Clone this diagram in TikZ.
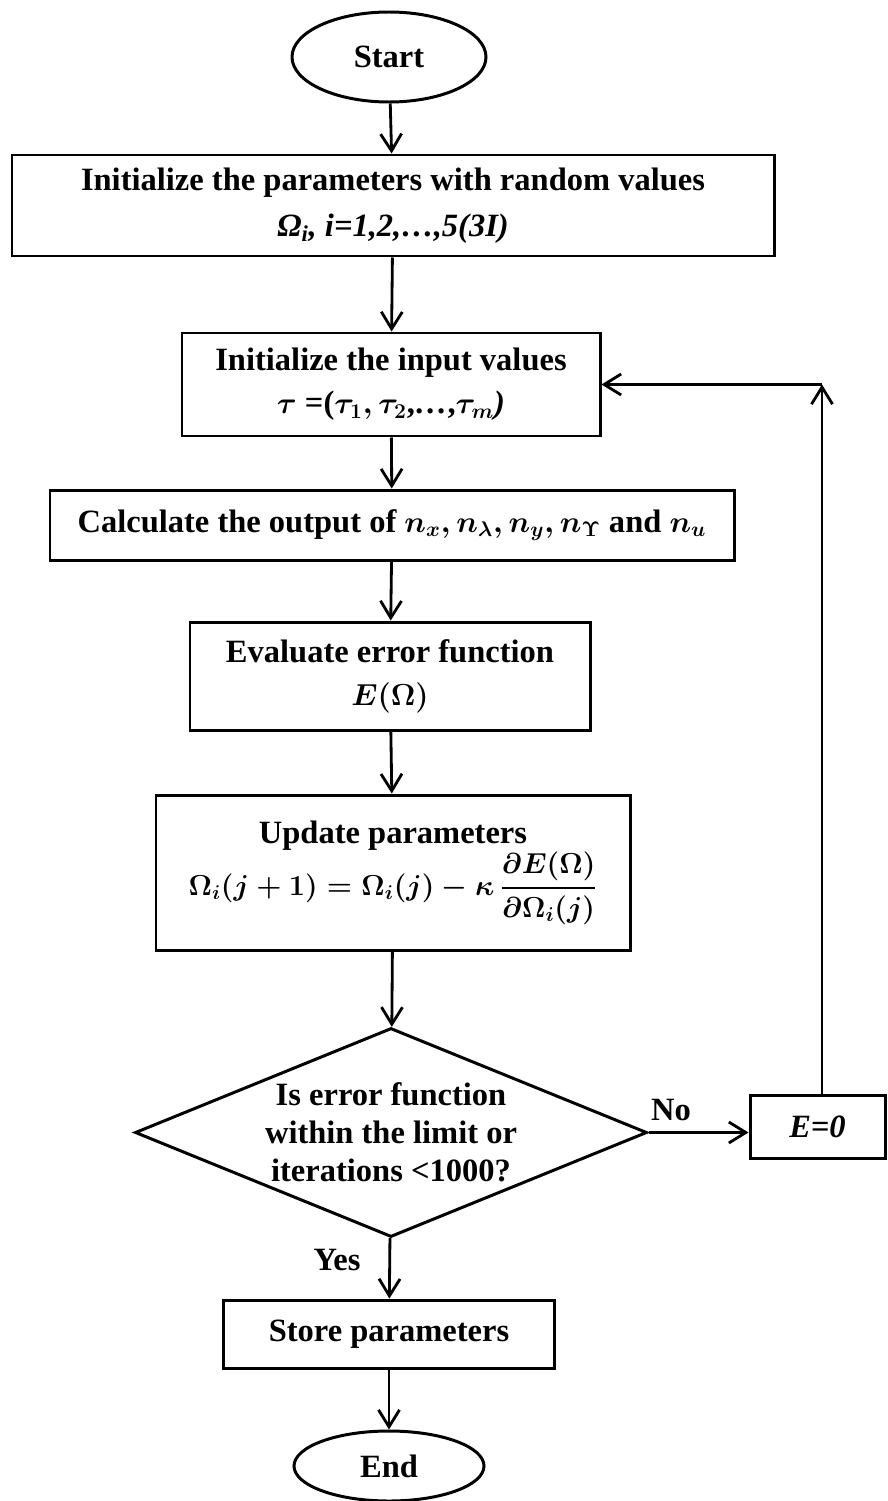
\documentclass[tikz,border=0pt]{standalone}
\usepackage{amsmath}
\usepackage{bm}
\usepackage{fontspec}
\setmainfont{Liberation Serif}
\usetikzlibrary{shapes.geometric,arrows.meta}
\newcommand{\mathsz}{\fontsize{17.28}{20}\selectfont}

\begin{document}
\begin{tikzpicture}[
    every node/.style={font=\fontsize{18.5}{24.5}\selectfont\bfseries\boldmath},
    box/.style={rectangle, draw, line width=1.7pt, align=center},
    term/.style={ellipse, draw, line width=1.7pt},
    decision/.style={diamond, draw, line width=1.7pt, inner sep=0pt},
    >={Straight Barb[length=3.4mm,width=4.2mm]},
    line width=1.6pt
]
\useasboundingbox (0,0) rectangle (17.74,-30.02);

% Blocks
\node[term, minimum width=3.88cm, minimum height=1.8cm] (start) at (7.78,-1.14) {Start};
\node[box, minimum width=15.24cm, minimum height=2.02cm] (initpar) at (7.86,-4.11)
    {Initialize the parameters with random values\\[2pt] \textit{Ω\textsubscript{i}, i=1,2,\ldots,5(3I)}};
\node[box, minimum width=8.36cm, minimum height=2.06cm] (initin) at (7.82,-7.69)
    {Initialize the input values\\ {\mathsz$\tau$} =({\mathsz$\tau_1, \tau_2$},\textit{\ldots},{\mathsz$\tau_m$}\textit{)}};
\node[box, minimum width=13.68cm, minimum height=1.4cm] (calc) at (7.84,-10.5)
    {Calculate the output of {\mathsz$n_x, n_\lambda, n_y, n_\Upsilon$} and {\mathsz$n_u$}};
\node[box, minimum width=8cm, minimum height=2.16cm] (eval) at (7.8,-13.52)
    {Evaluate error function\\ {\mathsz$E(\Omega)$}};
\node[box, minimum width=9.48cm, minimum height=3.1cm] (update) at (7.86,-17.45)
    {Update parameters\\ \scalebox{0.95}{\mathsz$\displaystyle \Omega_i(j+1) = \Omega_i(j) - \kappa\,\frac{\partial E(\Omega)}{\partial \Omega_i(j)}$}};
\node[decision, minimum width=10.24cm, minimum height=4.18cm,
    label={[align=center, font=\fontsize{18.5}{21.5}\selectfont\bfseries]center:Is error function\\ within the limit or\\ iterations <1000?}]
    (check) at (7.82,-22.65) {};
\node[box, minimum width=2.7cm, minimum height=1.26cm] (reset) at (16.35,-22.53) {\textit{E=0}};
\node[box, minimum width=6.62cm, minimum height=1.36cm] (store) at (7.78,-26.68) {Store parameters};
\node[term, minimum width=3.8cm, minimum height=1.4cm] (stop) at (7.78,-29.32) {End};

% Labels
\node (no) at (13.42,-22.2) {No};
\node (yes) at (6.74,-25.2) {Yes};

% Arrows
\draw[->] (start) -- (initpar);
\draw[->] (initpar) -- (initin);
\draw[->] (initin) -- (calc);
\draw[->] (calc) -- (eval);
\draw[->] (eval) -- (update);
\draw[->] (update) -- (check);
\draw[->] (check) -- (store);
\draw[->] (store) -- (stop);
\draw[->] (check.east) -- (check.east -| reset.west);

% Loop
\coordinate (corner) at (16.44,-7.69);
\draw[->] (reset.north -| corner) -- (corner);
\draw[->] (corner) -- (initin.east);
\end{tikzpicture}
\end{document}
